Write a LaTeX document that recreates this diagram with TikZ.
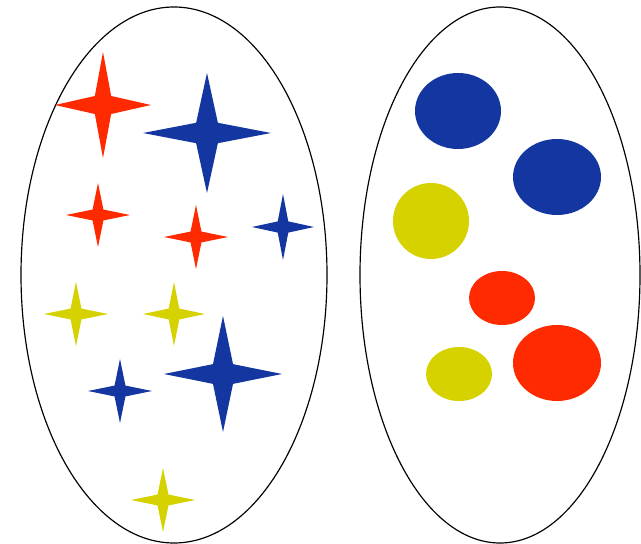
\documentclass[tikz,border=0pt]{standalone}
\usepackage{tikz}
\usetikzlibrary{calc}

\definecolor{setred}{RGB}{255,42,0}
\definecolor{setblue}{RGB}{20,54,160}
\definecolor{setyellow}{RGB}{213,210,0}

\begin{document}
\begin{tikzpicture}[x=0.03cm, y=-0.03cm, line join=round, line cap=round]
    \useasboundingbox (0,0) rectangle (641,544);
    \coordinate (L) at (174,275);
    \coordinate (R) at (500,275);
    
    % 两个集合
    \draw[line width=1pt] (L) ellipse [x radius=153, y radius=268];
    \draw[line width=1pt] (R) ellipse [x radius=140, y radius=268];
    
    % 星星
    \foreach \cx/\cy/\hx/\hy/\col in {103/105/48/53/setred, 207/133/64/60/setblue,
        98/215/32/32/setred, 196/237/32/32/setred, 283/227/31/33/setblue,
        76/314/32/32/setyellow, 174/314/31/32/setyellow, 223/374/59/58/setblue,
        120/391/32/32/setblue, 163/500/32/32/setyellow}
        \fill[\col, shift={(\cx,\cy)}] (\hx,0) -- (0.17*\hx,0.17*\hy) -- (0,\hy)
            -- (-0.17*\hx,0.17*\hy) -- (-\hx,0) -- (-0.17*\hx,-0.17*\hy)
            -- (0,-\hy) -- (0.17*\hx,-0.17*\hy) -- cycle;
    
    % 圆
    \foreach \cx/\cy/\rx/\ry/\col in {458/111/43/38/setblue, 557/177/44/38/setblue,
        431/221/38/38/setyellow, 502/298/33/27/setred,
        557/363/44/38/setred, 459/374/33/27/setyellow}
        \fill[\col] (\cx,\cy) ellipse [x radius=\rx, y radius=\ry];
\end{tikzpicture}
\end{document}
